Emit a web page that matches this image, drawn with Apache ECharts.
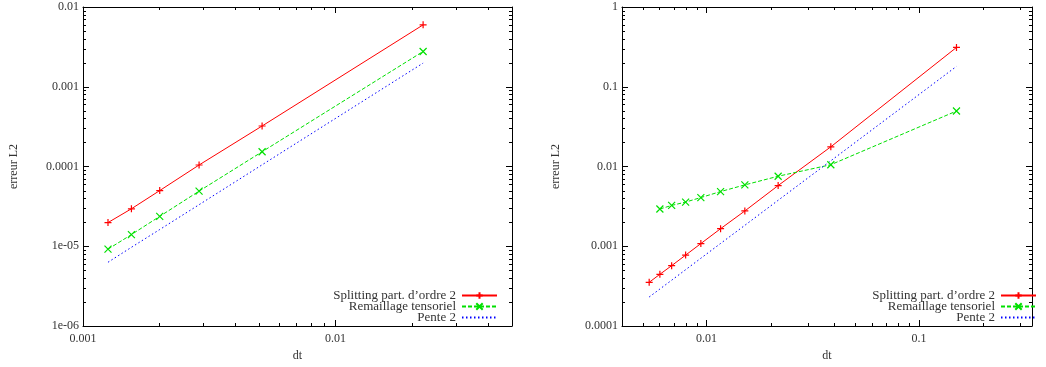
<!DOCTYPE html>
<html>
<head>
<meta charset="utf-8">
<script src="https://cdn.jsdelivr.net/npm/echarts@6/dist/echarts.min.js"></script>
<style>html,body{margin:0;padding:0;background:#fff}#c{width:1046px;height:367px}</style>
</head>
<body>
<div id="c"></div>
<script>
// ---- data ----
const seriesNames = ['Splitting part. d\u2019ordre 2', 'Remaillage tensoriel', 'Pente 2'];

// left panel
const leftDt = [0.001256, 0.001555, 0.002013, 0.002882, 0.00512, 0.02223];
const leftSplit = [1.98e-5, 2.95e-5, 4.99e-5, 1.044e-4, 3.22e-4, 5.97e-3];
const leftRemail = [9.19e-6, 1.40e-5, 2.37e-5, 4.91e-5, 1.53e-4, 2.77e-3];
const leftSlope = [6.3e-6, 9.7e-6, 1.62e-5, 3.32e-5, 1.05e-4, 1.98e-3];

// right panel
const rightDt = [0.00537, 0.00603, 0.00685, 0.00797, 0.0094, 0.01164, 0.01514, 0.02172, 0.03844, 0.150];
const rightSplit = [3.53e-4, 4.45e-4, 5.71e-4, 7.74e-4, 1.08e-3, 1.66e-3, 2.77e-3, 5.77e-3, 1.765e-2, 0.311];
const rightRemailDt = [0.00603, 0.00685, 0.00797, 0.0094, 0.01164, 0.01514, 0.02172, 0.03844, 0.150];
const rightRemail = [2.93e-3, 3.25e-3, 3.58e-3, 4.08e-3, 4.85e-3, 5.88e-3, 7.55e-3, 1.053e-2, 4.96e-2];
const rightSlope = [2.31e-4, 2.91e-4, 3.75e-4, 5.08e-4, 7.07e-4, 1.084e-3, 1.83e-3, 3.77e-3, 1.18e-2, 0.18];

// axis ranges and tick labels
const leftX = [0.001, 0.05], leftY = [1e-6, 0.01];
const rightX = [0.004, 0.34], rightY = [1e-4, 1];
const leftXLabels = ['0.001', '0.01'];
const leftYLabels = ['1e-06', '1e-05', '0.0001', '0.001', '0.01'];
const rightXLabels = ['0.01', '0.1'];
const rightYLabels = ['0.0001', '0.001', '0.01', '0.1', '1'];
const minorMultipliers = [2, 3, 4, 5, 6, 7, 8, 9];

// ---- helpers ----
const FONT = 'Liberation Serif';
const TXT = '#333';
function zip(a, b) { return a.map((v, i) => [v, b[i]]); }
function labelFmt(list) {
  return function (v) {
    const e = Math.log10(v);
    if (Math.abs(e - Math.round(e)) > 1e-6) return '';
    const r = Math.round(e);
    const cands = list.filter(s => Math.abs(Math.log10(parseFloat(s)) - r) < 1e-6);
    return cands.length ? cands[0] : '';
  };
}
function minorTicks(range) {
  const out = [];
  const lo = Math.floor(Math.log10(range[0])), hi = Math.ceil(Math.log10(range[1]));
  for (let k = lo; k < hi; k++) {
    minorMultipliers.forEach(m => {
      const v = m * Math.pow(10, k);
      if (v > range[0] * 1.0001 && v < range[1] * 0.9999) out.push(v);
    });
  }
  return out;
}
function minorData(xr, yr) {
  const d = [];
  minorTicks(xr).forEach(v => d.push([v, yr[0], 0]));
  minorTicks(yr).forEach(v => d.push([xr[0], v, 1]));
  return d;
}
function tickStyle() { return { stroke: '#000', lineWidth: 1 }; }
function minorRender(xr, yr) {
  return function (params, api) {
    const kind = api.value(2);
    const L = 3;
    if (kind === 0) {
      const v = api.value(0);
      const b = api.coord([v, yr[0]]), t = api.coord([v, yr[1]]);
      const x = Math.round(b[0]) + 0.5;
      return { type: 'group', children: [
        { type: 'line', shape: { x1: x, y1: b[1], x2: x, y2: b[1] - L }, style: tickStyle() },
        { type: 'line', shape: { x1: x, y1: t[1], x2: x, y2: t[1] + L }, style: tickStyle() }
      ] };
    } else {
      const v = api.value(1);
      const l = api.coord([xr[0], v]), r = api.coord([xr[1], v]);
      const y = Math.round(l[1]) + 0.5;
      return { type: 'group', children: [
        { type: 'line', shape: { x1: l[0], y1: y, x2: l[0] + L, y2: y }, style: tickStyle() },
        { type: 'line', shape: { x1: r[0], y1: y, x2: r[0] - L, y2: y }, style: tickStyle() }
      ] };
    }
  };
}
function xAxes(gi, range, labels) {
  const base = {
    type: 'log', logBase: 10, gridIndex: gi, min: range[0], max: range[1],
    axisLine: { show: true, onZero: false, lineStyle: { color: '#000', width: 1 } },
    axisTick: { show: true, inside: true, length: 6, lineStyle: { color: '#000' } },
    splitLine: { show: false }, minorTick: { show: false }
  };
  return [
    Object.assign({}, base, { position: 'bottom', name: 'dt', nameLocation: 'middle', nameGap: 24,
      nameTextStyle: { fontFamily: FONT, fontSize: 12, color: TXT },
      axisLabel: { show: true, margin: 7, fontFamily: FONT, fontSize: 12, color: TXT, formatter: labelFmt(labels) } }),
    Object.assign({}, base, { position: 'top', axisLabel: { show: false } })
  ];
}
function yAxes(gi, range, labels, gap) {
  const base = {
    type: 'log', logBase: 10, gridIndex: gi, min: range[0], max: range[1],
    axisLine: { show: true, onZero: false, lineStyle: { color: '#000', width: 1 } },
    axisTick: { show: true, inside: true, length: 6, lineStyle: { color: '#000' } },
    splitLine: { show: false }, minorTick: { show: false }
  };
  return [
    Object.assign({}, base, { position: 'left', name: 'erreur L2', nameLocation: 'middle', nameGap: gap,
      nameTextStyle: { fontFamily: FONT, fontSize: 12, color: TXT },
      axisLabel: { show: true, margin: 4, fontFamily: FONT, fontSize: 12, color: TXT, formatter: labelFmt(labels) } }),
    Object.assign({}, base, { position: 'right', axisLabel: { show: false } })
  ];
}
const plusPath = 'path://M0,5L10,5M5,0L5,10';
const crossPath = 'path://M0,0L10,10M10,0L0,10';
function lineSeries(name, data, xi, yi, color, type, symbol) {
  return {
    type: 'line', name: name, data: data, xAxisIndex: xi, yAxisIndex: yi,
    symbol: symbol || 'none', symbolSize: 7, showSymbol: !!symbol,
    lineStyle: { color: color, width: 1, type: type },
    itemStyle: { color: 'rgba(0,0,0,0)', borderColor: color, borderWidth: symbol ? 1.2 : 0 },
    emphasis: { disabled: true }, animation: false, z: 3
  };
}
function legendFor(name, right, top, noSymbol) {
  const item = noSymbol ? { name: name, itemStyle: { opacity: 0, borderWidth: 0 } } : name;
  return {
    data: [item], right: right, top: top, orient: 'vertical', align: 'right', padding: 0,
    itemWidth: 35, itemHeight: 8, itemGap: 0, selectedMode: false,
    textStyle: { fontFamily: FONT, fontSize: 13, color: TXT, padding: [0, 1, 0, 0] }
  };
}

const chart = echarts.init(document.getElementById('c'), null, { renderer: 'canvas' });
const legendTops = [289, 300, 311];
chart.setOption({
  animation: false,
  backgroundColor: '#fff',
  grid: [
    { left: 83, right: 534, top: 7, bottom: 39 },
    { left: 622, right: 14, top: 7, bottom: 39 }
  ],
  xAxis: [].concat(xAxes(0, leftX, leftXLabels), xAxes(1, rightX, rightXLabels)),
  yAxis: [].concat(yAxes(0, leftY, leftYLabels, 63), yAxes(1, rightY, rightYLabels, 60)),
  legend: [
    legendFor(seriesNames[0], 548, legendTops[0]),
    legendFor(seriesNames[1], 548, legendTops[1]),
    legendFor(seriesNames[2], 548, legendTops[2], true),
    legendFor(seriesNames[0], 9, legendTops[0]),
    legendFor(seriesNames[1], 9, legendTops[1]),
    legendFor(seriesNames[2], 9, legendTops[2], true)
  ],
  series: [
    lineSeries(seriesNames[0], zip(leftDt, leftSplit), 0, 0, '#ff0000', 'solid', plusPath),
    lineSeries(seriesNames[1], zip(leftDt, leftRemail), 0, 0, '#00e000', [4, 2], crossPath),
    lineSeries(seriesNames[2], zip(leftDt, leftSlope), 0, 0, '#0000ff', [1.5, 2.5], null),
    lineSeries(seriesNames[0], zip(rightDt, rightSplit), 2, 2, '#ff0000', 'solid', plusPath),
    lineSeries(seriesNames[1], zip(rightRemailDt, rightRemail), 2, 2, '#00e000', [4, 2], crossPath),
    lineSeries(seriesNames[2], zip(rightDt, rightSlope), 2, 2, '#0000ff', [1.5, 2.5], null),
    { type: 'custom', name: 'minorL', xAxisIndex: 0, yAxisIndex: 0,
      dimensions: ['x', 'y', 'k'], encode: { x: 0, y: 1 },
      data: minorData(leftX, leftY),
      renderItem: minorRender(leftX, leftY), clip: false, silent: true, z: 5 },
    { type: 'custom', name: 'minorR', xAxisIndex: 2, yAxisIndex: 2,
      dimensions: ['x', 'y', 'k'], encode: { x: 0, y: 1 },
      data: minorData(rightX, rightY),
      renderItem: minorRender(rightX, rightY), clip: false, silent: true, z: 5 }
  ]
});
</script>
</body>
</html>
